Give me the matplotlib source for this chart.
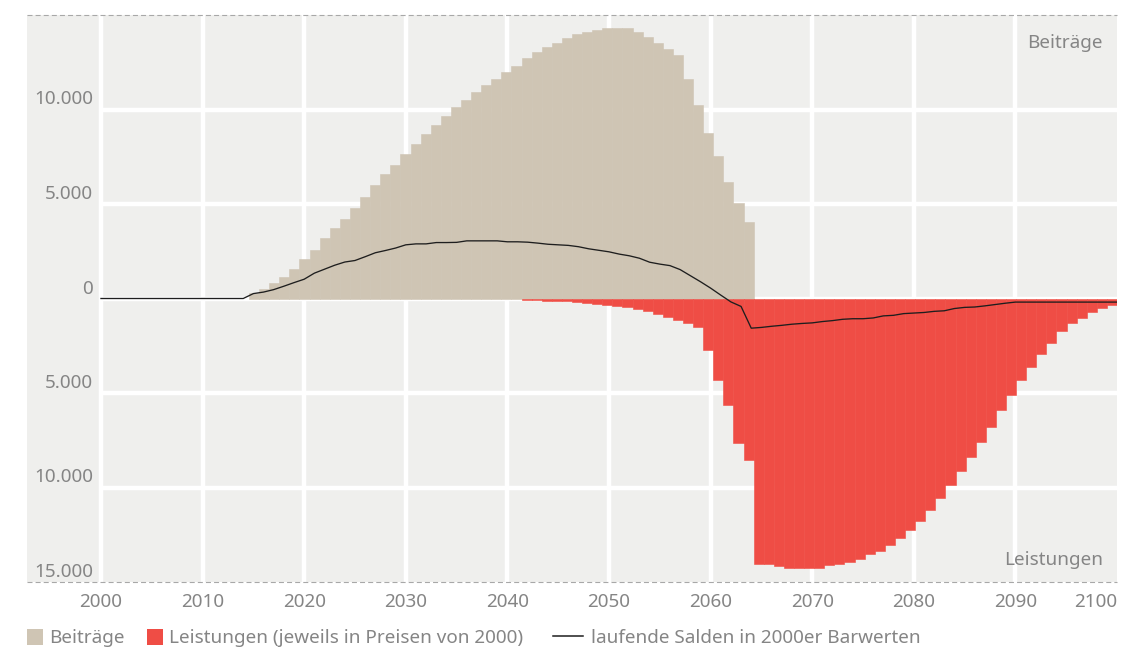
import matplotlib
matplotlib.use('Agg')
import matplotlib.pyplot as plt
from matplotlib.patches import Rectangle
from matplotlib.lines import Line2D
from matplotlib.transforms import offset_copy

plt.rcParams['font.family'] = ['Noto Sans', 'DejaVu Sans']

# ---------------- data ----------------
beitraege_years = list(range(2015, 2065))
beitraege = [300, 500, 840, 1150, 1580, 2070, 2580, 3210, 3730, 4220,
             4790, 5380, 5990, 6570, 7080, 7640, 8170, 8730, 9170, 9650,
             10110, 10520, 10910, 11310, 11620, 11970, 12310, 12710, 13020, 13310,
             13520, 13800, 13970, 14080, 14180, 14290, 14320, 14320, 14080, 13840,
             13520, 13200, 12900, 11610, 10220, 8780, 7520, 6150, 5050, 4050]

leistungen_years = list(range(2042, 2101))
leistungen = [90, 100, 110, 130, 150, 200, 220, 300, 320, 420,
              440, 540, 650, 820, 1000, 1120, 1320, 1530, 2700, 4330,
              5610, 7660, 8570, 14030, 14060, 14150, 14240, 14260, 14270, 14240,
              14110, 14030, 13940, 13760, 13530, 13360, 13060, 12660, 12270, 11780,
              11200, 10560, 9850, 9150, 8400, 7590, 6820, 5910, 5120, 4330,
              3630, 2930, 2330, 1700, 1320, 1040, 740, 510, 330]

saldo_years = list(range(2000, 2101))
saldo = [0] * 15 + [
    260, 340, 470, 650, 840, 1020, 1340, 1550, 1760, 1930,
    2010, 2210, 2420, 2540, 2670, 2840, 2890, 2890, 2960, 2960,
    2970, 3050, 3050, 3050, 3050, 3000, 3000, 2980, 2930, 2870,
    2840, 2810, 2740, 2630, 2550, 2470, 2350, 2260, 2130, 1920,
    1820, 1740, 1530, 1210, 890, 550, 180, -180, -420, -1570,
    -1530, -1470, -1420, -1360, -1320, -1290, -1220, -1170, -1100, -1070,
    -1070, -1030, -920, -890, -800, -770, -740, -680, -650, -530,
    -470, -450, -390, -320, -250, -190, -190, -190, -190, -190,
    -190, -190, -190, -190, -190, -190]

x_ticks = list(range(2000, 2101, 10))
x_tick_labels = [str(t) for t in x_ticks]
y_grid = [10000, 5000, 0, -5000, -10000]
y_label_values = [10000, 5000, 0, -5000, -10000, -15000]
y_labels = ['10.000', '5.000', '0', '5.000', '10.000', '15.000']

legend_labels = ['Beiträge', 'Leistungen (jeweils in Preisen von 2000)',
                 'laufende Salden in 2000er Barwerten']
corner_top = 'Beiträge'
corner_bottom = 'Leistungen'

# ---------------- style ----------------
BEIGE = '#cfc5b4'
RED = '#ef4d45'
BG = '#efefed'
TXT = '#858585'
FS = 13.6

W, H = 1135, 647
fig = plt.figure(figsize=(W / 100, H / 100), dpi=100)
ax = fig.add_axes([27 / W, 1 - 582 / H, (1117 - 27) / W, (582 - 15) / H])
XMIN, XMAX = 1992.72, 2100
ax.set_xlim(XMIN, XMAX)
ax.set_ylim(-15000, 15000)
ax.set_facecolor(BG)
for s in ax.spines.values():
    s.set_visible(False)

# band scale for the annual bars (domain 1993..2100 spread over the plot width)
band_domain = list(range(1993, 2101))
band = (XMAX - XMIN) / len(band_domain)


def band_left(year):
    return XMIN + band_domain.index(year) * band


# grid
ax.vlines([t for t in x_ticks if t < 2100], -15000, 15000, color='white', lw=3.2, zorder=1)
ax.hlines(y_grid, 2000, 2100, color='white', lw=3.2, zorder=1)
for yv in (15000, -15000):
    ax.axhline(yv, color='#a8a8a8', lw=0.8, ls=(0, (4.5, 2.8)), zorder=6, clip_on=False)

# bars
ax.bar([band_left(y) for y in beitraege_years], beitraege, width=band, align='edge',
       color=BEIGE, edgecolor=BEIGE, linewidth=0.4, zorder=3)
ax.bar([band_left(y) for y in leistungen_years], [-v for v in leistungen], width=band,
       align='edge', color=RED, edgecolor=RED, linewidth=0.4, zorder=3)

# line
ax.plot(saldo_years, saldo, color='#1e1e1e', lw=0.95, zorder=5, solid_joinstyle='round')

# x tick labels
ax.set_xticks(x_ticks)
ax.set_xticklabels(x_tick_labels)
ax.tick_params(axis='x', length=0, pad=8.0, labelsize=FS, labelcolor=TXT)
ax.set_yticks([])
xl = ax.get_xticklabels()
xl[-1].set_ha('right')

# y labels (inside the left grey column, above the grid lines)
ylab_tr = offset_copy(ax.transData, fig=fig, x=-8, y=5, units='dots')
for v, lab in zip(y_label_values, y_labels):
    ax.text(2000, v, lab, transform=ylab_tr, ha='right', va='baseline',
            fontsize=FS, color=TXT, zorder=7)

# corner labels
ax.text(0.9872, 0.95, corner_top, transform=ax.transAxes, ha='right',
        va='center', fontsize=FS, color=TXT, zorder=7)
ax.text(0.9872, 0.039, corner_bottom, transform=ax.transAxes, ha='right',
        va='center', fontsize=FS, color=TXT, zorder=7)


# legend (manual)
def fx(px):
    return px / W


def fy(py):
    return 1 - py / H


fig.add_artist(Rectangle((fx(27), fy(645)), 16 / W, 16 / H, transform=fig.transFigure,
                         color=BEIGE, lw=0))
fig.text(fx(49), fy(643), legend_labels[0], fontsize=FS, color=TXT, va='baseline')
fig.add_artist(Rectangle((fx(147), fy(645)), 16 / W, 16 / H, transform=fig.transFigure,
                         color=RED, lw=0))
fig.text(fx(169), fy(643), legend_labels[1], fontsize=FS, color=TXT, va='baseline')
fig.add_artist(Line2D([fx(553), fx(583)], [fy(636), fy(636)], transform=fig.transFigure,
                      color='#1e1e1e', lw=1.1))
fig.text(fx(591), fy(643), legend_labels[2], fontsize=FS, color=TXT, va='baseline')

fig.savefig('out.png', dpi=100, facecolor='white')
